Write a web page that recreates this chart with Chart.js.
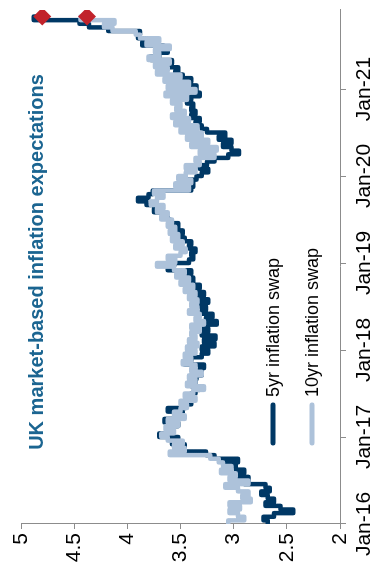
<!DOCTYPE html>
<html>
<head>
<meta charset="utf-8">
<script src="https://cdn.jsdelivr.net/npm/chart.js@4.4.1/dist/chart.umd.min.js"></script>
<style>
  html, body { margin: 0; padding: 0; background: #fff; overflow: hidden; }
  body { width: 377px; height: 575px; position: relative; }
  /* chart is laid out landscape, then turned a quarter turn to the left */
  #wrap { position: absolute; left: 0; top: 0; width: 575px; height: 377px;
          transform-origin: 0 0; transform: translate(0, 575px) rotate(-90deg); }
</style>
</head>
<body>
<div id="wrap"><canvas id="chart" width="575" height="377"></canvas></div>
<script>
// UK market-based inflation expectations, half-monthly readings from Jan 2016
const titleText = 'UK market-based inflation expectations';
const seriesNames = ['5yr inflation swap', '10yr inflation swap'];
const tickLabels = ['Jan-16', 'Jan-17', 'Jan-18', 'Jan-19', 'Jan-20', 'Jan-21'];

const swap5yr = [
  2.68, 2.72, 2.62, 2.44, 2.56, 2.70, 2.62, 2.68, 2.74, 2.66, 2.70, 2.90,
  2.86, 2.96, 2.90, 2.98, 3.08, 2.96, 3.18, 3.26, 3.55, 3.46, 3.58, 3.52,
  3.70, 3.62, 3.58, 3.52, 3.65, 3.55, 3.48, 3.62, 3.45, 3.40, 3.38, 3.40,
  3.36, 3.32, 3.40, 3.36, 3.35, 3.30, 3.32, 3.28, 3.46, 3.40, 3.30, 3.24,
  3.30, 3.18, 3.28, 3.17, 3.30, 3.24, 3.28, 3.16, 3.26, 3.20, 3.30, 3.26,
  3.32, 3.24, 3.36, 3.28, 3.36, 3.32, 3.44, 3.38, 3.46, 3.40, 3.62, 3.56,
  3.42, 3.38, 3.40, 3.36, 3.42, 3.40, 3.46, 3.50, 3.48, 3.55, 3.52, 3.60,
  3.62, 3.66, 3.75, 3.72, 3.82, 3.90, 3.80, 3.76, 3.40, 3.38, 3.44, 3.35,
  3.30, 3.24, 3.32, 3.25, 3.18, 3.05, 2.95, 3.02, 3.10, 3.02, 3.14, 3.08,
  3.25, 3.30, 3.36, 3.32, 3.40, 3.36, 3.40, 3.38, 3.44, 3.40, 3.32, 3.38,
  3.35, 3.45, 3.40, 3.48, 3.55, 3.52, 3.62, 3.58, 3.78, 3.70, 3.62, 3.66,
  3.86, 3.82, 3.90, 3.88, 4.18, 4.36, 4.45, 4.88, 4.80
];

const swap10yr = [
  3.05, 2.90, 2.96, 3.04, 2.94, 3.04, 2.84, 2.92, 2.86, 2.96, 3.08, 2.86,
  3.04, 2.98, 3.12, 3.02, 3.10, 3.14, 3.22, 3.60, 3.46, 3.56, 3.48, 3.62,
  3.68, 3.56, 3.64, 3.52, 3.62, 3.46, 3.56, 3.50, 3.44, 3.50, 3.36, 3.46,
  3.38, 3.28, 3.44, 3.36, 3.42, 3.30, 3.40, 3.36, 3.48, 3.40, 3.46, 3.36,
  3.44, 3.34, 3.42, 3.36, 3.40, 3.32, 3.40, 3.28, 3.36, 3.32, 3.42, 3.34,
  3.40, 3.34, 3.42, 3.36, 3.46, 3.38, 3.50, 3.42, 3.54, 3.46, 3.56, 3.72,
  3.55, 3.62, 3.50, 3.45, 3.55, 3.48, 3.58, 3.52, 3.60, 3.55, 3.62, 3.58,
  3.68, 3.62, 3.72, 3.66, 3.78, 3.72, 3.66, 3.75, 3.42, 3.55, 3.40, 3.52,
  3.45, 3.36, 3.45, 3.32, 3.36, 3.18, 3.32, 3.16, 3.40, 3.24, 3.44, 3.30,
  3.50, 3.34, 3.55, 3.42, 3.58, 3.46, 3.54, 3.50, 3.58, 3.44, 3.64, 3.36,
  3.62, 3.42, 3.65, 3.50, 3.72, 3.62, 3.74, 3.60, 3.80, 3.70, 3.74, 3.60,
  3.82, 3.70, 3.88, 3.92, 4.14, 4.22, 4.12, 4.44, 4.38
];

const navy = '#003865';
const lightBlue = '#adc2da';
const red = '#c1232b';
const axisGrey = '#8c8c8c';
const titleColor = '#1b6591';
const font = "'Liberation Sans', Arial, sans-serif";

// x is months since Jan 2016, two readings per month
const toPoints = arr => arr.map((v, i) => ({ x: i / 2, y: v }));
const lastMarker = ctx => ctx.dataIndex === ctx.dataset.data.length - 1 ? 9 : 0;

const overlay = {
  id: 'overlay',
  afterDatasetsDraw(chart) {
    const { ctx, chartArea: a } = chart;
    ctx.save();
    ctx.fillStyle = titleColor;
    ctx.font = 'bold 20px ' + font;
    ctx.textAlign = 'center';
    ctx.textBaseline = 'alphabetic';
    ctx.fillText(titleText, a.left + 262, a.top + 22);

    // legend sitting inside the plot
    ctx.font = '18px ' + font;
    ctx.textAlign = 'left';
    ctx.textBaseline = 'middle';
    ctx.lineCap = 'round';
    [navy, lightBlue].forEach((col, i) => {
      const y = a.top + 252 + i * 39;
      ctx.strokeStyle = col;
      ctx.lineWidth = 5;
      ctx.beginPath();
      ctx.moveTo(a.left + 81, y);
      ctx.lineTo(a.left + 119, y);
      ctx.stroke();
      ctx.fillStyle = '#000';
      ctx.fillText(seriesNames[i], a.left + 127, y + 1);
    });
    ctx.restore();
  }
};

Chart.defaults.font.family = font;
Chart.defaults.color = '#000';

new Chart(document.getElementById('chart').getContext('2d'), {
  type: 'line',
  data: {
    datasets: [
      {
        label: seriesNames[1],
        data: toPoints(swap10yr),
        borderColor: lightBlue,
        borderWidth: 4.5,
        stepped: true,
        borderCapStyle: 'round',
        borderJoinStyle: 'round',
        pointStyle: 'rectRot',
        pointRadius: lastMarker,
        pointBackgroundColor: red,
        pointBorderWidth: 0
      },
      {
        label: seriesNames[0],
        data: toPoints(swap5yr),
        borderColor: navy,
        borderWidth: 4.5,
        stepped: true,
        borderCapStyle: 'round',
        borderJoinStyle: 'round',
        pointStyle: 'rectRot',
        pointRadius: lastMarker,
        pointBackgroundColor: red,
        pointBorderWidth: 0
      }
    ]
  },
  options: {
    responsive: false,
    animation: false,
    layout: { padding: { top: 21, right: 10, left: 0, bottom: 0 } },
    plugins: {
      legend: { display: false },
      tooltip: { enabled: false }
    },
    scales: {
      x: {
        type: 'linear',
        min: 0,
        max: 70.9,
        afterFit: s => { s.height = 37; },
        border: { color: axisGrey, width: 1 },
        grid: { drawOnChartArea: false, tickLength: 6, color: axisGrey },
        ticks: {
          stepSize: 12,
          includeBounds: false,
          maxRotation: 0,
          autoSkip: false,
          padding: 6,
          font: { size: 21 },
          callback: v => tickLabels[v / 12]
        }
      },
      y: {
        min: 2,
        max: 5,
        afterFit: s => { s.width = 51; },
        border: { color: axisGrey, width: 1 },
        grid: { drawOnChartArea: false, tickLength: 5, color: axisGrey },
        ticks: { stepSize: 0.5, padding: 4, font: { size: 21 }, callback: v => String(v) }
      }
    }
  },
  plugins: [overlay]
});
</script>
</body>
</html>
